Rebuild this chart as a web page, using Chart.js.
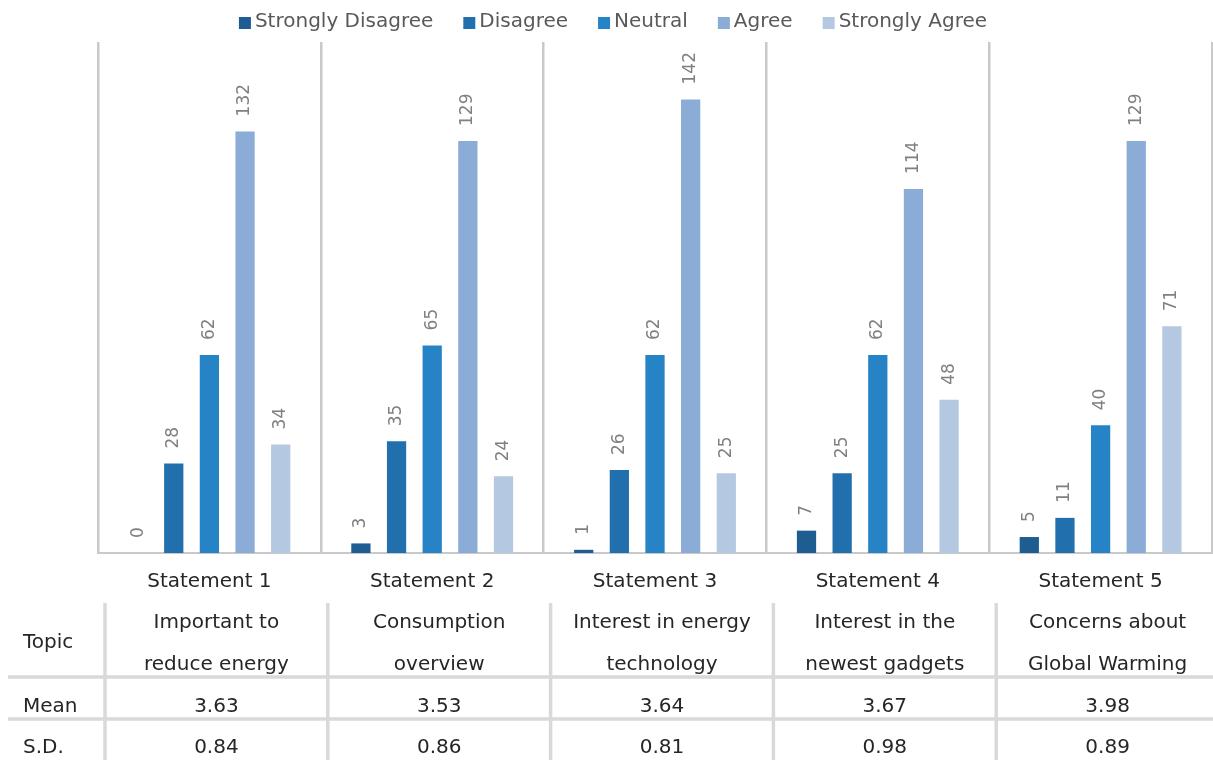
<!DOCTYPE html>
<html>
<head>
<meta charset="utf-8">
<title>Energy statements survey</title>
<script src="https://cdn.jsdelivr.net/npm/chart.js@4.4.1/dist/chart.umd.min.js"></script>
<style>
    body { margin: 0; background: #fff; }
    canvas { display: block; }
</style>
</head>
<body>
<canvas id="chart" width="1213" height="760"></canvas>
<script>
const statements = ['Statement 1', 'Statement 2', 'Statement 3', 'Statement 4', 'Statement 5'];
const topics = [
    ['Important to', 'reduce energy'],
    ['Consumption', 'overview'],
    ['Interest in energy', 'technology'],
    ['Interest in the', 'newest gadgets'],
    ['Concerns about', 'Global Warming']
];
const means = ['3.63', '3.53', '3.64', '3.67', '3.98'];
const sds = ['0.84', '0.86', '0.81', '0.98', '0.89'];

const stronglyDisagree = [0, 3, 1, 7, 5];
const disagree = [28, 35, 26, 25, 11];
const neutral = [62, 65, 62, 62, 40];
const agree = [132, 129, 142, 114, 129];
const stronglyAgree = [34, 24, 25, 48, 71];

const FONT = '"DejaVu Sans", sans-serif';
const TEXT = '#262626';

// value printed vertically above each bar
const barLabels = {
    id: 'barLabels',
    afterDatasetsDraw(chart) {
        const ctx = chart.ctx;
        ctx.save();
        ctx.font = `17px ${FONT}`;
        ctx.fillStyle = '#808080';
        ctx.textAlign = 'left';
        ctx.textBaseline = 'middle';
        chart.data.datasets.forEach((ds, i) => {
            chart.getDatasetMeta(i).data.forEach((bar, j) => {
                ctx.save();
                ctx.translate(bar.x, bar.y - 15);
                ctx.rotate(-Math.PI / 2);
                ctx.fillText(ds.data[j], 0, 0);
                ctx.restore();
            });
        });
        ctx.restore();
    }
};

// legend row across the top
const topLegend = {
    id: 'topLegend',
    afterDraw(chart) {
        const ctx = chart.ctx;
        ctx.save();
        ctx.font = `20px ${FONT}`;
        ctx.textBaseline = 'middle';
        const box = 12, gap = 4, spacing = 30;
        const items = chart.data.datasets.map(ds => ({
            text: ds.label,
            color: ds.backgroundColor,
            w: ctx.measureText(ds.label).width
        }));
        const total = items.reduce((s, it) => s + box + gap + it.w, 0) + spacing * (items.length - 1);
        let x = 613 - total / 2;
        items.forEach(it => {
            ctx.fillStyle = it.color;
            ctx.fillRect(x, 17, box, box);
            ctx.fillStyle = '#595959';
            ctx.fillText(it.text, x + box + gap, 22);
            x += box + gap + it.w + spacing;
        });
        ctx.restore();
    }
};

// topic / mean / s.d. table under the axis
const statsTable = {
    id: 'statsTable',
    afterDraw(chart) {
        const { ctx, scales: { x } } = chart;
        const n = statements.length;
        const colW = (x.right - x.left) / n;
        const shift = 7;
        const top = 603;

        ctx.save();
        ctx.strokeStyle = '#d9d9d9';
        ctx.lineWidth = 3.5;
        ctx.beginPath();
        for (let i = 0; i < n; i++) {
            const lx = x.left + i * colW + shift;
            ctx.moveTo(lx, top);
            ctx.lineTo(lx, chart.height);
        }
        [677, 719].forEach(y => {
            ctx.moveTo(8, y);
            ctx.lineTo(chart.width, y);
        });
        ctx.stroke();

        ctx.font = `20px ${FONT}`;
        ctx.fillStyle = TEXT;
        ctx.textBaseline = 'alphabetic';
        ctx.textAlign = 'left';
        ctx.fillText('Topic', 23, 648);
        ctx.fillText('Mean', 23, 712);
        ctx.fillText('S.D.', 23, 753);

        ctx.textAlign = 'center';
        for (let i = 0; i < n; i++) {
            const cx = x.left + (i + 0.5) * colW + shift;
            ctx.fillText(topics[i][0], cx, 628);
            ctx.fillText(topics[i][1], cx, 670);
            ctx.fillText(means[i], cx, 712);
            ctx.fillText(sds[i], cx, 753);
        }
        ctx.restore();
    }
};

new Chart(document.getElementById('chart'), {
    type: 'bar',
    data: {
        labels: statements,
        datasets: [
            { label: 'Strongly Disagree', data: stronglyDisagree, backgroundColor: '#1F5C92' },
            { label: 'Disagree', data: disagree, backgroundColor: '#2170AD' },
            { label: 'Neutral', data: neutral, backgroundColor: '#2683C6' },
            { label: 'Agree', data: agree, backgroundColor: '#8AACD6' },
            { label: 'Strongly Agree', data: stronglyAgree, backgroundColor: '#B5C8E2' }
        ]
    },
    options: {
        responsive: false,
        animation: false,
        layout: { padding: { left: 98, right: 1, top: 42, bottom: 167 } },
        datasets: {
            bar: { categoryPercentage: 0.8, barPercentage: 0.54 }
        },
        plugins: {
            legend: { display: false },
            tooltip: { enabled: false }
        },
        scales: {
            x: {
                afterFit: (scale) => { scale.height = 40; },
                grid: { offset: true, color: '#c9c9c9', lineWidth: 2.5, drawTicks: false },
                border: { display: true, color: '#c9c9c9', width: 2 },
                ticks: { color: TEXT, font: { family: FONT, size: 20 }, padding: 17 }
            },
            y: {
                display: false,
                min: 0,
                max: 160
            }
        }
    },
    plugins: [barLabels, topLegend, statsTable]
});
</script>
</body>
</html>
